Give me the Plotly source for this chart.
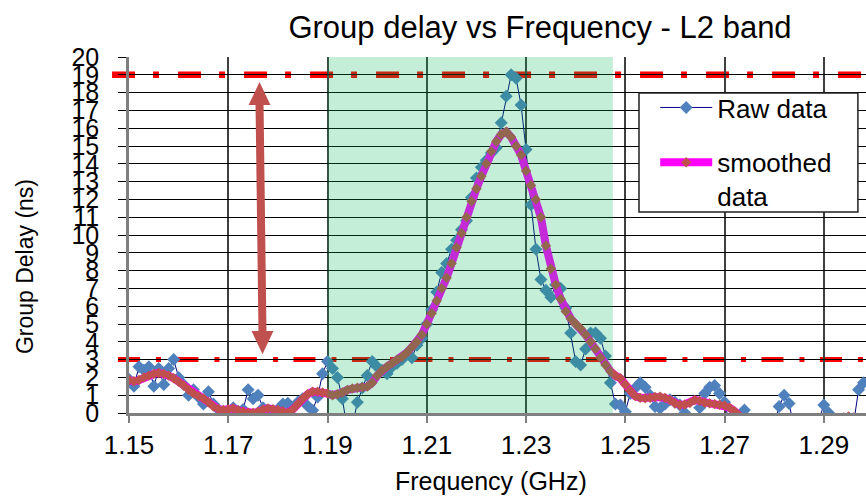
import plotly.graph_objects as go

# Frequency sweep (GHz), shared by both series
freq_ghz = [
    1.150, 1.151, 1.152, 1.153, 1.154, 1.155, 1.156, 1.157, 1.158, 1.159,
    1.160, 1.161, 1.162, 1.163, 1.164, 1.165, 1.166, 1.167, 1.168, 1.169,
    1.170, 1.171, 1.172, 1.173, 1.174, 1.175, 1.176, 1.177, 1.178, 1.179,
    1.180, 1.181, 1.182, 1.183, 1.184, 1.185, 1.186, 1.187, 1.188, 1.189,
    1.190, 1.191, 1.192, 1.193, 1.194, 1.195, 1.196, 1.197, 1.198, 1.199,
    1.200, 1.201, 1.202, 1.203, 1.204, 1.205, 1.206, 1.207, 1.208, 1.209,
    1.210, 1.211, 1.212, 1.213, 1.214, 1.215, 1.216, 1.217, 1.218, 1.219,
    1.220, 1.221, 1.222, 1.223, 1.224, 1.225, 1.226, 1.227, 1.228, 1.229,
    1.230, 1.231, 1.232, 1.233, 1.234, 1.235, 1.236, 1.237, 1.238, 1.239,
    1.240, 1.241, 1.242, 1.243, 1.244, 1.245, 1.246, 1.247, 1.248, 1.249,
    1.250, 1.251, 1.252, 1.253, 1.254, 1.255, 1.256, 1.257, 1.258, 1.259,
    1.260, 1.261, 1.262, 1.263, 1.264, 1.265, 1.266, 1.267, 1.268, 1.269,
    1.270, 1.271, 1.272, 1.273, 1.274, 1.275, 1.276, 1.277, 1.278, 1.279,
    1.280, 1.281, 1.282, 1.283, 1.284, 1.285, 1.286, 1.287, 1.288, 1.289,
    1.290, 1.291, 1.292, 1.293, 1.294, 1.295, 1.296, 1.297, 1.298,
]

# Measured group delay (ns)
raw_delay_ns = [
    1.9, 1.5, 2.6, 2.4, 2.6, 1.5, 2.5, 1.6, 2.5, 3.0,
    2.0, 1.6, 1.0, 1.3, 0.9, 0.5, 1.2, 0.5, 0.2, 0.0,
    -0.3, 0.3, 0.1, 0.2, 1.3, 0.8, 1.0, 0.3, 0.1, -0.2,
    0.2, 0.5, 0.55, 0.3, 0.6, 0.8, 0.4, 0.15, 0.9, 2.2,
    2.9, 2.5, 2.0, 0.8, -1.0, -0.8, 0.6, 1.4, 2.1, 2.9,
    2.6, 2.4, 2.2, 2.6, 2.8, 3.0, 3.3, 3.1, 3.8, 4.2,
    5.0, 5.8, 6.8, 7.9, 8.4, 9.2, 9.7, 10.3, 10.8, 12.1,
    13.2, 13.8, 14.2, 14.6, 14.9, 16.3, 17.8, 19.0, 18.8, 17.3,
    14.8, 11.7, 9.2, 7.5, 6.9, 6.5, 7.2, 7.0, 5.9, 4.5,
    2.9, 2.7, 3.6, 4.5, 4.5, 4.2, 3.2, 1.7, 0.5, 0.45,
    0.07, 1.1, 1.4, 1.7, 1.45, 1.0, 0.36, 0.27, 0.5, 0.75,
    0.6, 0.45, 0.0, -0.8, -1.0, 0.3, 1.1, 1.45, 1.55, 1.1,
    0.6, -0.6, -1.0, -0.8, 0.17, -0.5, -1.2, -1.5, -1.3, -0.9,
    -0.6, 0.36, 1.0, 0.54, -0.8, -1.4, -1.6, -1.5, -1.1, -0.4,
    0.45, 0.0, -1.0, -1.5, -1.7, -1.4, -0.6, 1.3, 1.7,
]

# Smoothed group delay (ns)
smoothed_delay_ns = [
    1.85, 1.78, 1.85, 2.0, 2.1, 2.2, 2.25, 2.2, 2.1, 1.95,
    1.75, 1.55, 1.3, 1.1, 0.95, 0.82, 0.6, 0.36, 0.22, 0.17,
    0.2, 0.26, 0.15, 0.07, 0.02, 0.0, 0.07, 0.18, 0.26, 0.22,
    0.17, 0.1, 0.02, 0.2, 0.5, 0.8, 1.05, 1.2, 1.2, 1.15,
    1.1, 1.0, 1.05, 1.15, 1.3, 1.38, 1.42, 1.45, 1.48, 1.7,
    2.1, 2.4, 2.6, 2.8, 3.0, 3.15, 3.4, 3.7, 4.0, 4.4,
    5.0, 5.6, 6.3, 7.0, 7.6, 8.4, 9.3, 10.1, 11.0, 11.9,
    12.6, 13.3, 14.0, 14.7, 15.25, 15.65, 15.8, 15.5, 15.0, 14.5,
    13.6, 12.8, 12.0, 11.0, 9.4, 8.1, 7.2, 6.4, 5.7, 5.3,
    5.0, 4.75, 4.4, 4.0, 3.6, 3.1, 2.7, 2.35, 2.1, 1.95,
    1.6, 1.25, 0.95, 0.85, 0.82, 0.85, 0.9, 0.92, 0.85, 0.73,
    0.55, 0.45, 0.48, 0.56, 0.73, 0.68, 0.58, 0.54, 0.5, 0.46,
    0.42, 0.3, 0.1, -0.15, -0.5, -0.8, -1.0, -1.2, -1.3, -1.3,
    -1.2, -1.0, -0.9, -0.9, -1.0, -1.2, -1.3, -1.3, -1.1, -0.9,
    -0.7, -0.6, -0.5, -0.35, -0.25, -0.2, -0.25, -0.35, -0.5,
]

# Axis settings
X_RANGE = [1.15, 1.2985]
X_TICKS = [1.15, 1.17, 1.19, 1.21, 1.23, 1.25, 1.27, 1.29]
Y_RANGE = [0, 20]

# L2 band window and group-delay limits
BAND_START, BAND_END = 1.19, 1.2475
UPPER_LIMIT, LOWER_LIMIT = 19, 3

# Double-headed arrow spanning the limits
ARROW_X_TOP, ARROW_X_BOTTOM = 1.1763, 1.1769
ARROW_TOP, ARROW_BOTTOM = 18.6, 3.3
HEAD_LEN = 1.3          # ns
HEAD_HALF_W = 0.0022    # GHz

FONT = "Liberation Sans, Arial, sans-serif"
ARROW_COLOR = "#C0504D"

fig = go.Figure()

fig.add_trace(go.Scatter(
    x=freq_ghz, y=raw_delay_ns, name="Raw data", mode="lines+markers",
    line=dict(color="#000080", width=1),
    marker=dict(symbol="diamond", size=10, color="#4F81BD"),
    legendgroup="raw",
))
fig.add_trace(go.Scatter(
    x=freq_ghz, y=smoothed_delay_ns, name="smoothed<br>data", mode="lines+markers",
    line=dict(color="#FF00FF", width=8),
    marker=dict(symbol="diamond", size=8, color="#C0504D"),
    legendgroup="smooth",
))

shapes = []
# limit lines (dash-dot)
shapes.append(dict(type="line", xref="paper", yref="y", x0=-0.023, x1=1,
                   y0=UPPER_LIMIT, y1=UPPER_LIMIT, layer="between",
                   line=dict(color="#FF0000", width=6.5, dash="23px,18px,6px,19px")))
shapes.append(dict(type="line", xref="paper", yref="y", x0=-0.015, x1=1,
                   y0=LOWER_LIMIT, y1=LOWER_LIMIT, layer="between",
                   line=dict(color="#FF0000", width=5, dash="22px,16px,5px,15.5px")))
# translucent L2 band overlay
shapes.append(dict(type="rect", xref="x", yref="y", x0=BAND_START, x1=BAND_END,
                   y0=Y_RANGE[0], y1=Y_RANGE[1], layer="above",
                   fillcolor="rgba(0,180,80,0.23)", line=dict(width=0)))
# arrow shaft
shapes.append(dict(type="line", xref="x", yref="y",
                   x0=ARROW_X_TOP, y0=ARROW_TOP - HEAD_LEN + 0.1,
                   x1=ARROW_X_BOTTOM, y1=ARROW_BOTTOM + HEAD_LEN - 0.1,
                   line=dict(color=ARROW_COLOR, width=8)))
# arrow heads
shapes.append(dict(type="path", xref="x", yref="y",
                   path=(f"M{ARROW_X_TOP},{ARROW_TOP} "
                         f"L{ARROW_X_TOP - HEAD_HALF_W},{ARROW_TOP - HEAD_LEN} "
                         f"L{ARROW_X_TOP + HEAD_HALF_W},{ARROW_TOP - HEAD_LEN} Z"),
                   fillcolor=ARROW_COLOR, line=dict(width=0)))
shapes.append(dict(type="path", xref="x", yref="y",
                   path=(f"M{ARROW_X_BOTTOM},{ARROW_BOTTOM} "
                         f"L{ARROW_X_BOTTOM - HEAD_HALF_W},{ARROW_BOTTOM + HEAD_LEN} "
                         f"L{ARROW_X_BOTTOM + HEAD_HALF_W},{ARROW_BOTTOM + HEAD_LEN} Z"),
                   fillcolor=ARROW_COLOR, line=dict(width=0)))
# legend frame
shapes.append(dict(type="rect", xref="paper", yref="paper",
                   x0=0.692, x1=0.989, y0=0.5646, y1=0.899, layer="above",
                   fillcolor="white", line=dict(color="#202020", width=1.5)))

annotations = [
    dict(text="Frequency (GHz)", xref="paper", yref="paper", x=0.491, y=-0.19,
         xanchor="center", yanchor="middle", showarrow=False,
         font=dict(family=FONT, size=25, color="black")),
    dict(text="Group Delay (ns)", xref="paper", yref="paper", x=-0.141, y=0.41,
         xanchor="center", yanchor="middle", showarrow=False, textangle=-90,
         font=dict(family=FONT, size=23, color="black")),
]

fig.update_layout(
    width=866, height=497,
    margin=dict(l=129, r=0, t=57, b=84),
    paper_bgcolor="white", plot_bgcolor="white",
    font=dict(family=FONT, color="black"),
    title=dict(text="Group delay vs Frequency - L2 band", x=0.6236, y=0.9457,
               xref="container", yref="container", xanchor="center", yanchor="middle",
               font=dict(family=FONT, size=31, color="black")),
    shapes=shapes,
    annotations=annotations,
    showlegend=True,
    legend=dict(x=0.714, y=0.924, xanchor="left", yanchor="top",
                bgcolor="rgba(0,0,0,0)", borderwidth=0,
                font=dict(family=FONT, size=26, color="black"),
                tracegroupgap=18, valign="top", itemwidth=52,
                traceorder="grouped"),
)

fig.update_xaxes(
    range=X_RANGE, tickmode="array", tickvals=X_TICKS,
    ticktext=[f"{v:.2f}" for v in X_TICKS],
    showgrid=True, gridcolor="#404040", gridwidth=1.6,
    showline=True, linecolor="#7F7F7F", linewidth=3,
    ticks="outside", ticklen=7, tickcolor="#7F7F7F", tickwidth=1.5,
    tickfont=dict(family=FONT, size=26, color="black"),
    zeroline=False,
)
fig.update_yaxes(
    range=Y_RANGE, tickmode="linear", tick0=0, dtick=1,
    showgrid=True, gridcolor="#000000", gridwidth=1.3,
    showline=True, linecolor="#7F7F7F", linewidth=2.5,
    ticks="outside", ticklen=8, tickcolor="#000000", tickwidth=1.3,
    tickfont=dict(family=FONT, size=25, color="black"),
    ticklabelstandoff=14,
    zeroline=False,
)

fig.write_html("out.html")
